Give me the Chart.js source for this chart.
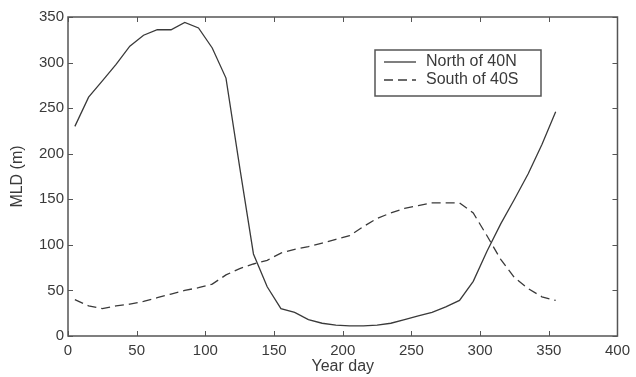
<!DOCTYPE html>
<html>
<head>
<meta charset="utf-8">
<script src="https://cdn.jsdelivr.net/npm/chart.js@4/dist/chart.umd.min.js"></script>
<style>
  body { margin: 0; background: #fff; }
  #wrap { width: 636px; height: 377px; }
</style>
</head>
<body>
<div id="wrap"><canvas id="mldChart"></canvas></div>
<script>
const yearDays = [5, 15, 25, 35, 45, 55, 65, 75, 85, 95, 105, 115, 125, 135, 145, 155, 165, 175,
                  185, 195, 205, 215, 225, 235, 245, 255, 265, 275, 285, 295, 305, 315, 325, 335, 345, 355];
const northMLD = [230, 262, 280, 298, 318, 330, 336, 336, 344, 338, 316, 283, 185, 90, 54, 30, 26, 18,
                  14, 12, 11, 11, 12, 14, 18, 22, 26, 32, 39, 60, 93, 123, 150, 178, 210, 246];
const southMLD = [40, 33, 30, 33, 35, 38, 42, 46, 50, 53, 57, 67, 74, 79, 83, 91, 95, 98,
                  102, 106, 110, 120, 129, 135, 140, 143, 146, 146, 146, 135, 110, 84, 64, 52, 43, 39];
const seriesNames = ['North of 40N', 'South of 40S'];
const xTicks = [0, 50, 100, 150, 200, 250, 300, 350, 400];
const yTicks = [0, 50, 100, 150, 200, 250, 300, 350];

const FONT = 'Liberation Sans, Arial, sans-serif';
const INK = '#3a3a3a';

function toPoints(ys) {
    return yearDays.map((d, i) => ({ x: d, y: ys[i] }));
}

// matlab style box with inward ticks, plus the boxed legend
const boxPlugin = {
    id: 'boxPlugin',
    afterDraw(chart) {
        const ctx = chart.ctx;
        const a = chart.chartArea;
        const xs = chart.scales.x, ys = chart.scales.y;
        ctx.save();
        ctx.strokeStyle = '#555';
        ctx.lineWidth = 1.5;
        ctx.strokeRect(a.left, a.top, a.right - a.left, a.bottom - a.top);
        ctx.lineWidth = 1;
        const tl = 5;
        ctx.beginPath();
        xTicks.forEach(v => {
            const px = Math.round(xs.getPixelForValue(v)) + 0.5;
            ctx.moveTo(px, a.bottom); ctx.lineTo(px, a.bottom - tl);
            ctx.moveTo(px, a.top); ctx.lineTo(px, a.top + tl);
        });
        yTicks.forEach(v => {
            const py = Math.round(ys.getPixelForValue(v)) + 0.5;
            ctx.moveTo(a.left, py); ctx.lineTo(a.left + tl, py);
            ctx.moveTo(a.right, py); ctx.lineTo(a.right - tl, py);
        });
        ctx.stroke();

        // legend
        const lx = 375, ly = 50, lw = 166, lh = 46;
        ctx.fillStyle = '#fff';
        ctx.fillRect(lx, ly, lw, lh);
        ctx.strokeStyle = '#555';
        ctx.lineWidth = 1.5;
        ctx.strokeRect(lx, ly, lw, lh);
        ctx.font = '16px ' + FONT;
        ctx.textBaseline = 'middle';
        ctx.fillStyle = INK;
        chart.data.datasets.forEach((ds, i) => {
            const yy = ly + 12 + i * 18;
            ctx.strokeStyle = INK;
            ctx.lineWidth = 1.3;
            ctx.setLineDash(ds.borderDash || []);
            ctx.beginPath();
            ctx.moveTo(lx + 9, yy); ctx.lineTo(lx + 41, yy);
            ctx.stroke();
            ctx.setLineDash([]);
            ctx.fillText(ds.label, lx + 51, yy);
        });
        ctx.restore();
    }
};

const ctx = document.getElementById('mldChart').getContext('2d');
const mldChart = new Chart(ctx, {
    type: 'line',
    data: {
        datasets: [{
            label: seriesNames[0],
            data: toPoints(northMLD),
            borderColor: INK,
            borderWidth: 1.3,
            pointRadius: 0,
            tension: 0,
            fill: false
        }, {
            label: seriesNames[1],
            data: toPoints(southMLD),
            borderColor: INK,
            borderWidth: 1.3,
            borderDash: [9, 5],
            pointRadius: 0,
            tension: 0,
            fill: false
        }]
    },
    options: {
        responsive: true,
        maintainAspectRatio: false,
        animation: false,
        events: [],
        layout: { padding: { top: 17, right: 14, left: 0, bottom: 0 } },
        plugins: {
            legend: { display: false },
            tooltip: { enabled: false }
        },
        scales: {
            x: {
                type: 'linear',
                min: 0, max: 400,
                afterBuildTicks: s => { s.ticks = xTicks.map(v => ({ value: v })); },
                afterFit: s => { s.height = 41; },
                grid: { display: false, drawTicks: false },
                border: { display: false },
                ticks: { color: INK, font: { family: FONT, size: 15 }, padding: 6, maxRotation: 0 },
                title: { display: true, text: 'Year day', color: INK, font: { family: FONT, size: 16 }, padding: { top: 0, bottom: 1 } }
            },
            y: {
                type: 'linear',
                min: 0, max: 350,
                afterBuildTicks: s => { s.ticks = yTicks.map(v => ({ value: v })); },
                afterFit: s => { s.width = 68; },
                grid: { display: false, drawTicks: false },
                border: { display: false },
                ticks: { color: INK, font: { family: FONT, size: 15 }, padding: 4 },
                title: { display: true, text: 'MLD (m)', color: INK, font: { family: FONT, size: 16 }, padding: { top: 8, bottom: 0 } }
            }
        }
    },
    plugins: [boxPlugin]
});
</script>
</body>
</html>
